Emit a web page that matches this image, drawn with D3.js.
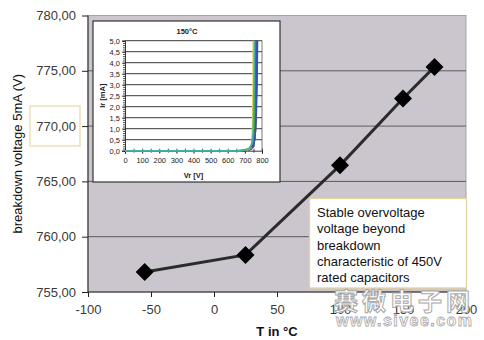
<!DOCTYPE html>
<html><head><meta charset="utf-8">
<script src="https://cdn.jsdelivr.net/npm/d3@7"></script>
<style>
html,body{margin:0;padding:0;background:#fff;}
svg{display:block;font-family:"Liberation Sans",Arial,sans-serif;}
</style></head>
<body>
<svg id="c" width="484" height="340"></svg>
<script>
// ---- main chart data ----
const temps = [-55, 25, 100, 150, 175];
const breakdown = [756.8, 758.35, 766.45, 772.5, 775.35];
const xTicks = [-100, -50, 0, 50, 100, 150, 200];
const yTicks = [755, 760, 765, 770, 775, 780];
const xTitle = "T in °C";
const yTitle = "breakdown voltage 5mA (V)";
const noteLines = ["Stable overvoltage", "voltage beyond", "breakdown", "characteristic of 450V", "rated capacitors"];

// ---- inset data (Vr [V], Ir [mA]) ----
const insetTitle = "150°C";
const insetXTicks = [0, 100, 200, 300, 400, 500, 600, 700, 800];
const insetYTicks = [0, 0.5, 1, 1.5, 2, 2.5, 3, 3.5, 4, 4.5, 5];
const curveColors = ["#5a2030", "#1e6b4a", "#1f2a5a", "#7a3fa0", "#3b4fb8", "#e0d44c", "#3d9a3a", "#3fb3a8"];
const curve1 = [[0,0],[690,0],[735,0.08],[752,0.5],[757,1.5],[760,3.2],[761,5.2]];
const curve2 = [[0,0],[700,0],[740,0.1],[758,0.5],[766,1.5],[771,3],[774,5.2]];
const curve3 = [[0,0],[680,0],[720,0.05],[745,0.2],[755,0.8],[760,2.5],[762,5.2]];
const curve4 = [[0,0],[690,0],[730,0.04],[752,0.2],[762,0.9],[766,2.2],[768,4],[769,5.2]];
const curve5 = [[0,0],[680,0],[725,0.05],[750,0.2],[760,0.7],[765,1.8],[769,3.5],[772,5.2]];
const curve6 = [[0,0],[670,0],[715,0.03],[735,0.12],[743,0.6],[746,1.5],[748,3],[749,5.2]];
const curve7 = [[0,0],[660,0],[710,0.04],[735,0.15],[748,0.4],[755,1.2],[758,2.8],[760,5.2]];
const curve8 = [[0,0],[650,0],[700,0.03],[725,0.1],[740,0.3],[748,0.8],[752,2],[754,3.5],[756,5.2]];
const curves = [curve1, curve2, curve3, curve4, curve5, curve6, curve7, curve8];

const watermark1 = "赛微电子网";
const watermark2 = "www.sivee.com";

const svg = d3.select("#c");
const loc = d3.formatLocale({decimal: ",", thousands: ".", grouping: [3], currency: ["", ""], minus: "-"});
const fmt = loc.format(".2f");

const x = d3.scaleLinear().domain([-100, 200]).range([88, 466]);
const y = d3.scaleLinear().domain([755, 780]).range([292, 15.5]);

// plot background
svg.append("rect").attr("x", x(-100)).attr("y", y(780)).attr("width", x(200) - x(-100)).attr("height", y(755) - y(780))
  .attr("fill", "#cbc6cd").attr("stroke", "#a7a3aa").attr("stroke-width", 1);

// gridlines
svg.append("g").selectAll("line").data(yTicks.filter(d => d > 755 && d < 780)).join("line")
  .attr("x1", x(-100)).attr("x2", x(200)).attr("y1", d => y(d)).attr("y2", d => y(d))
  .attr("stroke", "#5e5862").attr("stroke-width", 1);

// axes
const yAxis = svg.append("g").attr("transform", `translate(${x(-100)},0)`)
  .call(d3.axisLeft(y).tickValues(yTicks).tickFormat(fmt).tickSize(6).tickPadding(6));
const xAxis = svg.append("g").attr("transform", `translate(0,${y(755)})`)
  .call(d3.axisBottom(x).tickValues(xTicks).tickFormat(loc.format("d")).tickSize(5).tickPadding(8));
[yAxis, xAxis].forEach(a => {
  a.selectAll("path").attr("stroke", "#222");
  a.selectAll("line").attr("stroke", "#222");
  a.selectAll("text").attr("font-size", 13).attr("fill", "#3a3a3a");
});
xAxis.select(".domain").attr("d", `M${x(-100)},0H${x(200)}`);
yAxis.select(".domain").attr("d", `M0,${y(780)}V${y(755)}`);

// titles
svg.append("text").attr("transform", `translate(22,${(y(780) + y(755)) / 2}) rotate(-90)`)
  .attr("text-anchor", "middle").attr("font-size", 13).attr("fill", "#111").text(yTitle);
svg.append("text").attr("x", 277).attr("y", 336).attr("text-anchor", "middle")
  .attr("font-size", 13).attr("font-weight", "bold").attr("fill", "#111").text(xTitle);

// yellow highlight box around 770 label
svg.append("rect").attr("x", 30).attr("y", 106).attr("width", 50).attr("height", 40)
  .attr("fill", "none").attr("stroke", "#e6d9a6").attr("stroke-width", 1.2);

// data line + markers
const pts = temps.map((t, i) => [t, breakdown[i]]);
svg.append("path").datum(pts).attr("fill", "none").attr("stroke", "#2b2b2b").attr("stroke-width", 3)
  .attr("d", d3.line().x(d => x(d[0])).y(d => y(d[1])));
svg.append("g").selectAll("path").data(pts).join("path")
  .attr("transform", d => `translate(${x(d[0])},${y(d[1])})`)
  .attr("d", "M0,-9L9,0L0,9L-9,0Z").attr("fill", "#000");

// ---- inset ----
const inset = svg.append("g");
inset.append("rect").attr("x", 93).attr("y", 21).attr("width", 187).attr("height", 161)
  .attr("fill", "#fff").attr("stroke", "#333").attr("stroke-width", 1.2);
const ix = d3.scaleLinear().domain([0, 800]).range([125, 262]);
const iy = d3.scaleLinear().domain([0, 5]).range([150.7, 40.7]);
inset.append("text").attr("x", 187).attr("y", 34).attr("text-anchor", "middle")
  .attr("font-size", 7.5).attr("font-weight", "bold").attr("fill", "#222").text(insetTitle);
// inset grid
inset.append("g").selectAll("line").data(insetYTicks.filter(d => d > 0)).join("line")
  .attr("x1", ix(0)).attr("x2", ix(800)).attr("y1", d => iy(d)).attr("y2", d => iy(d))
  .attr("stroke", "#222").attr("stroke-width", 0.9);
inset.append("line").attr("x1", ix(800)).attr("x2", ix(800)).attr("y1", iy(5)).attr("y2", iy(0))
  .attr("stroke", "#555").attr("stroke-width", 0.8);
// inset axes
const iya = inset.append("g").attr("transform", `translate(${ix(0)},0)`)
  .call(d3.axisLeft(iy).tickValues(insetYTicks).tickFormat(loc.format(".1f")).tickSize(3).tickPadding(2));
const iyMinor = inset.append("g").attr("transform", `translate(${ix(0)},0)`)
  .call(d3.axisLeft(iy).ticks(50).tickFormat("").tickSize(2));
const ixa = inset.append("g").attr("transform", `translate(0,${iy(0)})`)
  .call(d3.axisBottom(ix).tickValues(insetXTicks).tickFormat(d3.format("d")).tickSize(3).tickPadding(4));
const ixMinor = inset.append("g").attr("transform", `translate(0,${iy(0) + 2})`)
  .call(d3.axisTop(ix).ticks(16).tickFormat("").tickSize(4));
[iya, iyMinor, ixa, ixMinor].forEach(a => {
  a.selectAll("path").attr("stroke", "#222").attr("stroke-width", 0.9);
  a.selectAll("line").attr("stroke", "#222").attr("stroke-width", 0.8);
  a.selectAll("text").attr("font-size", 7.5).attr("fill", "#222");
});
iyMinor.select(".domain").remove();
ixMinor.select(".domain").remove();
inset.append("text").attr("x", (ix(0) + ix(800)) / 2).attr("y", 178).attr("text-anchor", "middle")
  .attr("font-size", 7.5).attr("font-weight", "bold").attr("fill", "#222").text("Vr [V]");
inset.append("text").attr("transform", `translate(105,${(iy(0) + iy(5)) / 2}) rotate(-90)`)
  .attr("text-anchor", "middle").attr("font-size", 7.5).attr("font-weight", "bold").attr("fill", "#222").text("Ir [mA]");
// curves
svg.append("defs").append("clipPath").attr("id", "ic").append("rect")
  .attr("x", ix(0)).attr("y", iy(5)).attr("width", ix(800) - ix(0)).attr("height", iy(0) - iy(5) + 1.5);
inset.append("g").attr("clip-path", "url(#ic)").selectAll("path").data(curves).join("path")
  .attr("fill", "none").attr("stroke", (d, i) => curveColors[i]).attr("stroke-width", 1.6)
  .attr("d", d3.line().x(d => ix(d[0])).y(d => iy(d[1])));

// ---- annotation box ----
svg.append("rect").attr("x", 309.5).attr("y", 198.5).attr("width", 157).attr("height", 89.5)
  .attr("fill", "#fff").attr("stroke", "#e3d39c").attr("stroke-width", 1.3);
svg.append("g").selectAll("text").data(noteLines).join("text")
  .attr("x", 317).attr("y", (d, i) => 217 + i * 16.3)
  .attr("font-size", 13).attr("fill", "#111").text(d => d);

// ---- watermark ----
svg.append("text").attr("x", 404).attr("y", 310).attr("text-anchor", "middle")
  .attr("font-family", "Noto Sans CJK SC").attr("font-size", 24).attr("font-weight", "bold")
  .attr("letter-spacing", 4).attr("fill", "#fff").attr("stroke", "#a9a9a9").attr("stroke-width", 1).text(watermark1);
svg.append("text").attr("x", 404).attr("y", 326).attr("text-anchor", "middle")
  .attr("font-size", 16).attr("font-weight", "bold").attr("textLength", 136)
  .attr("fill", "#fff").attr("stroke", "#a9a9a9").attr("stroke-width", 0.8).text(watermark2);
</script>
</body></html>
